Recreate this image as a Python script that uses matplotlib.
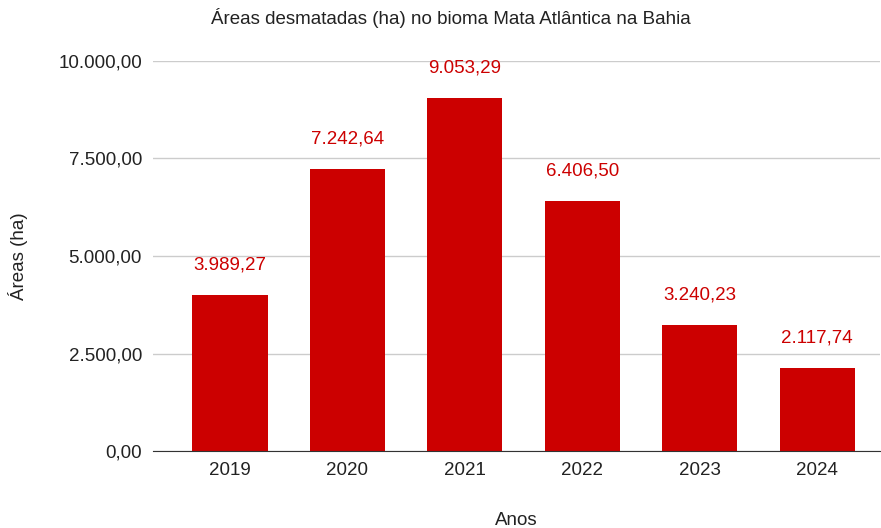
import matplotlib
matplotlib.use("Agg")
import matplotlib.pyplot as plt
from matplotlib.ticker import FuncFormatter

plt.rcParams["font.family"] = ["Liberation Sans", "DejaVu Sans"]

anos = ["2019", "2020", "2021", "2022", "2023", "2024"]
areas = [3989.27, 7242.64, 9053.29, 6406.50, 3240.23, 2117.74]
yticks = [0, 2500, 5000, 7500, 10000]

BAR_COLOR = "#cc0000"
FS = 13.5


def br_fmt(v, pos=None):
    s = f"{v:,.2f}"
    return s.replace(",", "X").replace(".", ",").replace("X", ".")


fig = plt.figure(figsize=(8.81, 5.28), dpi=100)
ax = fig.add_axes([0.1737, 0.1458, 0.8257, 0.7387])

x = list(range(len(anos)))
ax.bar(x, areas, width=0.64, color=BAR_COLOR, zorder=2)
for xi, v in zip(x, areas):
    ax.annotate(br_fmt(v), (xi, v), xytext=(0, 15.5), textcoords="offset points",
                ha="center", va="bottom", color=BAR_COLOR, fontsize=FS)

ax.set_xlim(-0.656, 5.54)
ax.set_ylim(0, 10000)
ax.set_xticks(x)
ax.set_xticklabels(anos)
ax.set_yticks(yticks)
ax.yaxis.set_major_formatter(FuncFormatter(br_fmt))
ax.grid(axis="y", color="#cccccc", linewidth=1, zorder=0)
ax.tick_params(axis="both", length=0, labelsize=FS, colors="#222222", pad=8)
for side in ["top", "right", "left"]:
    ax.spines[side].set_visible(False)
ax.spines["bottom"].set_color("#333333")
ax.spines["bottom"].set_zorder(3)

ax.set_xlabel("Anos", fontsize=FS, color="#222222", labelpad=24)
ax.set_ylabel("Áreas (ha)", fontsize=FS, color="#222222")
ax.yaxis.set_label_coords(-0.172, 0.5)
fig.text(0.512, 0.965, "Áreas desmatadas (ha) no bioma Mata Atlântica na Bahia",
         ha="center", va="center", fontsize=FS, color="#222222")

fig.savefig("out.png", dpi=100)
